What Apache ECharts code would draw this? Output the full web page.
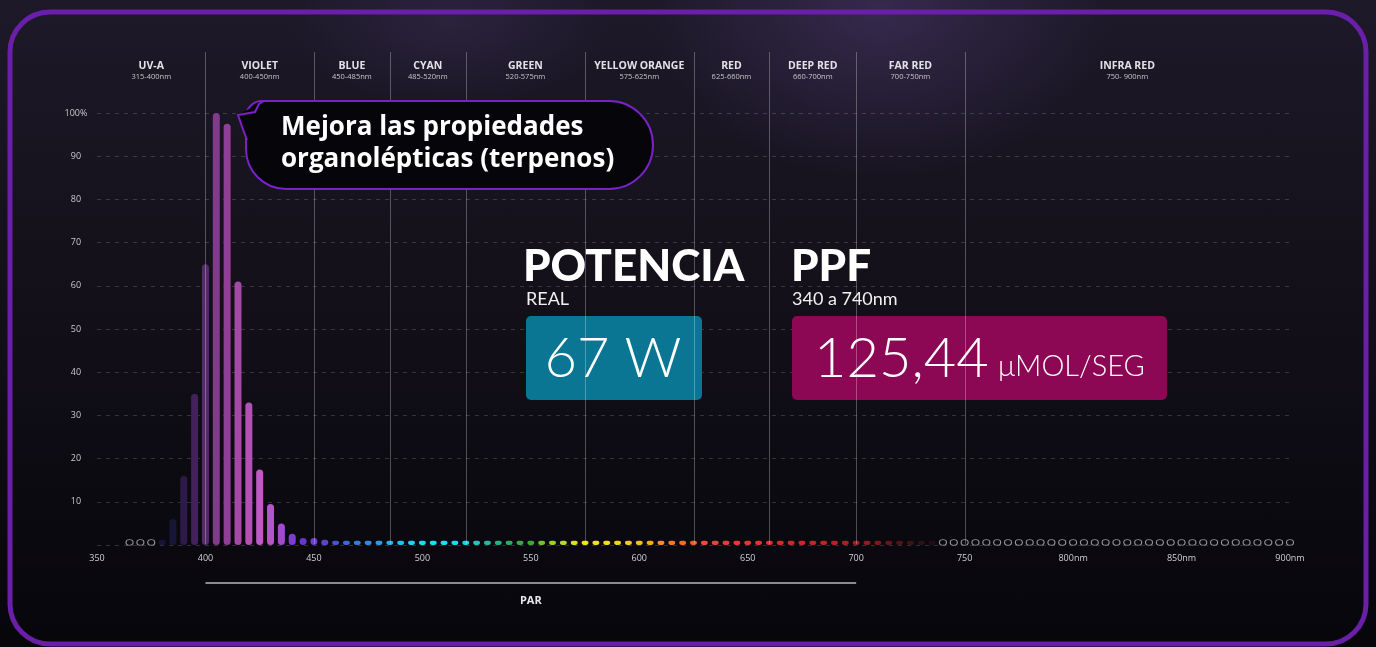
<!DOCTYPE html>
<html>
<head>
<meta charset="utf-8">
<title>Espectro</title>
<script src="https://cdn.jsdelivr.net/npm/echarts@6/dist/echarts.min.js"></script>
<style>
  html, body { margin: 0; padding: 0; }
  body {
    width: 1376px; height: 647px; overflow: hidden;
    background:
      radial-gradient(ellipse 230px 170px at 880px 10px, rgba(110,80,160,0.30), rgba(110,80,160,0) 100%),
      radial-gradient(ellipse 160px 90px at 450px 20px, rgba(110,80,160,0.18), rgba(110,80,160,0) 100%),
      linear-gradient(to bottom, #1d1929 0%, #131019 45%, #07060b 100%);
  }
  #chart { width: 1376px; height: 647px; }
</style>
</head>
<body>
<div id="chart"></div>
<script>
// espectro medido, cada 5nm
var wavelengths = [380, 385, 390, 395, 400, 405, 410, 415, 420, 425, 430, 435, 440, 445,
  450, 455, 460, 465, 470, 475, 480, 485, 490, 495, 500, 505, 510, 515, 520, 525, 530, 535,
  540, 545, 550, 555, 560, 565, 570, 575, 580, 585, 590, 595, 600, 605, 610, 615, 620, 625,
  630, 635, 640, 645, 650, 655, 660, 665, 670, 675, 680, 685, 690, 695, 700, 705, 710, 715,
  720, 725, 730, 735];
var intensity = [1.2, 6, 16, 35, 65, 100, 97.5, 61, 33, 17.5, 9.5, 5, 2.6, 1.6,
  1.6, 1.2, 1, 1, 1, 1, 1, 1, 1, 1, 1, 1, 1, 1, 1, 1, 1, 1,
  1, 1, 1, 1, 1, 1, 1, 1, 1, 1, 1, 1, 1, 1, 1, 1, 1, 1,
  1, 1, 1, 1, 1, 1, 1, 1, 1, 1, 1, 1, 1, 1, 1, 1, 1, 1,
  1, 1, 1, 1];
// sin emision (circulos vacios)
var emptyNm = [365, 370, 375, 740, 745, 750, 755, 760, 765, 770, 775, 780, 785, 790, 795,
  800, 805, 810, 815, 820, 825, 830, 835, 840, 845, 850, 855, 860, 865, 870, 875, 880, 885,
  890, 895, 900];
var emptyLevel = [0.6, 0.6, 0.6, 0.6, 0.6, 0.6, 0.6, 0.6, 0.6, 0.6, 0.6, 0.6, 0.6, 0.6, 0.6,
  0.6, 0.6, 0.6, 0.6, 0.6, 0.6, 0.6, 0.6, 0.6, 0.6, 0.6, 0.6, 0.6, 0.6, 0.6, 0.6, 0.6, 0.6,
  0.6, 0.6, 0.6];

var bandNames = ['UV-A', 'VIOLET', 'BLUE', 'CYAN', 'GREEN', 'YELLOW ORANGE', 'RED', 'DEEP RED', 'FAR RED', 'INFRA RED'];
var bandRanges = ['315-400nm', '400-450nm', '450-485nm', '485-520nm', '520-575nm', '575-625nm', '625-660nm', '660-700nm', '700-750nm', '750- 900nm'];
var bandEdges = [350, 400, 450, 485, 520, 575, 625, 660, 700, 750, 900];
var parRange = [400, 700];

var xTicks = [350, 400, 450, 500, 550, 600, 650, 700, 750, 800, 850, 900];
var yTicks = [10, 20, 30, 40, 50, 60, 70, 80, 90, 100];

// colores del espectro
var palette = {
  380: '#17133c', 385: '#181638', 390: '#2e1a48', 395: '#42225a', 400: '#552a6a', 405: '#803b8c',
  410: '#903f96', 415: '#a24aa4', 420: '#b250b6', 425: '#c058c6', 430: '#b455cc', 435: '#a04ad0',
  440: '#7c3ed0', 445: '#6438cc', 450: '#6a3fd0', 455: '#5a44cc', 460: '#4a52d0', 465: '#3f66d2',
  470: '#3a78d8', 475: '#3788dc', 480: '#3498de', 485: '#2aaae4', 490: '#22c0ec', 495: '#1ad4f0',
  500: '#18dcf2', 505: '#18e0f4', 510: '#1adef2', 515: '#1cd8ee', 520: '#1cd0e4', 525: '#20c4c0',
  530: '#24b8a0', 535: '#28b080', 540: '#30aa60', 545: '#36a844', 550: '#3aa83a', 555: '#70c030',
  560: '#98d030', 565: '#b8d828', 570: '#d8e020', 575: '#eee020', 580: '#f2e020', 585: '#f2dc20',
  590: '#f2d420', 595: '#f0cc20', 600: '#f0c020', 605: '#f0ac22', 610: '#f09024', 615: '#f07828',
  620: '#f06a2e', 625: '#f05a2e', 630: '#ee4a3a', 635: '#ec4040', 640: '#e83a3a', 645: '#e63838',
  650: '#e43636', 655: '#e03434', 660: '#d83030', 665: '#d02c2c', 670: '#cc2a2a', 675: '#c82828',
  680: '#c02828', 685: '#b82626', 690: '#b02424', 695: '#a82222', 700: '#9c2020', 705: '#8c1e1e',
  710: '#7a1a1c', 715: '#661618', 720: '#521416', 725: '#401214', 730: '#301012', 735: '#240d12'
};

var chart = echarts.init(document.getElementById('chart'));

var barData = wavelengths.map(function (nm, i) {
  return { value: [nm, intensity[i]], itemStyle: { color: palette[nm] } };
});
var emptyData = emptyNm.map(function (nm, i) { return [nm, emptyLevel[i]]; });

var option = {
  backgroundColor: 'transparent',
  animation: false,
  grid: { left: 97, right: 86, top: 113, bottom: 102 },
  xAxis: {
    type: 'value',
    min: 350,
    max: 900,
    interval: 50,
    axisLine: { show: false },
    axisTick: { show: false },
    splitLine: { show: false },
    axisLabel: {
      color: '#d0d0d4',
      fontSize: 9,
      fontFamily: 'Open Sans',
      margin: 9,
      showMinLabel: true,
      showMaxLabel: true,
      formatter: function (v) {
        if (xTicks.indexOf(v) < 0) return '';
        return v >= 800 ? v + 'nm' : String(v);
      }
    }
  },
  yAxis: {
    type: 'value',
    min: 0,
    max: 100,
    interval: 10,
    axisLine: { show: false },
    axisTick: { show: false },
    splitLine: {
      lineStyle: { color: 'rgba(255,255,255,0.16)', type: [4, 5], width: 1 }
    },
    axisLabel: {
      color: '#c8c8cc',
      fontSize: 9,
      fontFamily: 'Open Sans',
      align: 'center',
      margin: 21,
      formatter: function (v) {
        if (yTicks.indexOf(v) < 0) return '';
        return v === 100 ? '100%' : String(v);
      }
    }
  },
  series: [
    {
      type: 'bar',
      z: 3,
      barWidth: 7,
      itemStyle: { borderRadius: 3.5 },
      data: barData
    },
    {
      type: 'scatter',
      z: 3,
      symbol: 'circle',
      symbolSize: [7, 5.5],
      itemStyle: { color: 'rgba(0,0,0,0)', borderColor: 'rgba(215,215,220,0.85)', borderWidth: 1 },
      data: emptyData
    }
  ]
};
chart.setOption(option);

// elementos fijos: marco, bandas, PAR, cajas, burbuja
var gx = function (nm) { return chart.convertToPixel({ xAxisIndex: 0 }, nm); };
var gy = function (v) { return chart.convertToPixel({ yAxisIndex: 0 }, v); };
var graphics = [];

graphics.push({
  type: 'rect', z: 0, silent: true,
  shape: { x: 10, y: 12, width: 1356, height: 632, r: 40 },
  style: { fill: 'transparent', stroke: '#6a1fa8', lineWidth: 5 }
});

var lineTop = 52, lineBottom = gy(0) - 1;
for (var i = 1; i < bandEdges.length - 1; i++) {
  var lx = Math.round(gx(bandEdges[i])) + 0.5;
  graphics.push({
    type: 'line', z: 6, silent: true,
    shape: { x1: lx, y1: lineTop, x2: lx, y2: lineBottom },
    style: { stroke: 'rgba(255,255,255,0.28)', lineWidth: 1 }
  });
}
for (var b = 0; b < bandNames.length; b++) {
  var cx = gx((bandEdges[b] + bandEdges[b + 1]) / 2);
  graphics.push({
    type: 'text', z: 6, silent: true, x: cx, y: 66,
    style: { text: bandNames[b], fill: '#e2e2e6', font: 'bold 10.5px "Open Sans"', align: 'center', verticalAlign: 'middle' }
  });
  graphics.push({
    type: 'text', z: 6, silent: true, x: cx, y: 77,
    style: { text: bandRanges[b], fill: '#c4c4c8', font: '7.5px "Open Sans"', align: 'center', verticalAlign: 'middle' }
  });
}

// PAR
graphics.push({
  type: 'line', z: 6, silent: true,
  shape: { x1: gx(parRange[0]), y1: 583, x2: gx(parRange[1]), y2: 583 },
  style: { stroke: '#b8b8bc', lineWidth: 1.5 }
});
graphics.push({
  type: 'text', z: 6, silent: true, x: gx(550), y: 601,
  style: { text: 'PAR', fill: '#e8e8ec', font: 'bold 11px "Open Sans"', align: 'center', verticalAlign: 'middle' }
});

// POTENCIA
graphics.push({
  type: 'text', z: 5, silent: true, x: 523, y: 267,
  style: { text: 'POTENCIA', fill: '#ffffff', font: '900 44px Lato', verticalAlign: 'middle' }
});
graphics.push({
  type: 'text', z: 5, silent: true, x: 526, y: 299,
  style: { text: 'REAL', fill: '#f0f0f0', font: '18px Lato', verticalAlign: 'middle' }
});
graphics.push({
  type: 'rect', z: 4, silent: true,
  shape: { x: 526, y: 316, width: 176, height: 84, r: 5 },
  style: { fill: '#0a7693' }
});
graphics.push({
  type: 'text', z: 5, silent: true, x: 613, y: 359,
  style: { text: '67 W', fill: '#ffffff', font: '300 56px Lato', align: 'center', verticalAlign: 'middle' }
});

// PPF
graphics.push({
  type: 'text', z: 5, silent: true, x: 791, y: 267,
  style: { text: 'PPF', fill: '#ffffff', font: '900 44px Lato', verticalAlign: 'middle' }
});
graphics.push({
  type: 'text', z: 5, silent: true, x: 792, y: 299,
  style: { text: '340 a 740nm', fill: '#f0f0f0', font: '18px Lato', verticalAlign: 'middle' }
});
graphics.push({
  type: 'rect', z: 4, silent: true,
  shape: { x: 792, y: 316, width: 375, height: 84, r: 5 },
  style: { fill: '#8c0854' }
});
graphics.push({
  type: 'text', z: 5, silent: true, x: 814, y: 359,
  style: { text: '125,44', fill: '#ffffff', font: '300 56px Lato', verticalAlign: 'middle' }
});
graphics.push({
  type: 'text', z: 5, silent: true, x: 998, y: 367,
  style: { text: 'μMOL/SEG', fill: '#ffffff', font: '300 29px Lato', verticalAlign: 'middle' }
});

// burbuja: cuerpo redondeado + cola
graphics.push({
  type: 'rect', z: 10, silent: true,
  shape: { x: 246, y: 101, width: 407, height: 88, r: [16, 44, 44, 40] },
  style: { fill: '#060509', stroke: '#7a22c8', lineWidth: 2 }
});
graphics.push({
  type: 'polygon', z: 11, silent: true,
  shape: { points: [[238, 115], [262, 102], [264, 102], [264, 140], [247, 140]] },
  style: { fill: '#060509' }
});
graphics.push({
  type: 'polyline', z: 12, silent: true,
  shape: { points: [[264, 101], [259, 104], [255, 112], [238, 115], [244, 132], [247, 140]] },
  style: { stroke: '#7a22c8', lineWidth: 2, fill: null }
});
graphics.push({
  type: 'text', z: 13, silent: true, x: 281, y: 128,
  style: { text: 'Mejora las propiedades', fill: '#ffffff', font: 'bold 26px "Open Sans"', verticalAlign: 'middle' }
});
graphics.push({
  type: 'text', z: 13, silent: true, x: 281, y: 160,
  style: { text: 'organolépticas (terpenos)', fill: '#ffffff', font: 'bold 26px "Open Sans"', verticalAlign: 'middle' }
});

chart.setOption({ graphic: graphics });
</script>
</body>
</html>
